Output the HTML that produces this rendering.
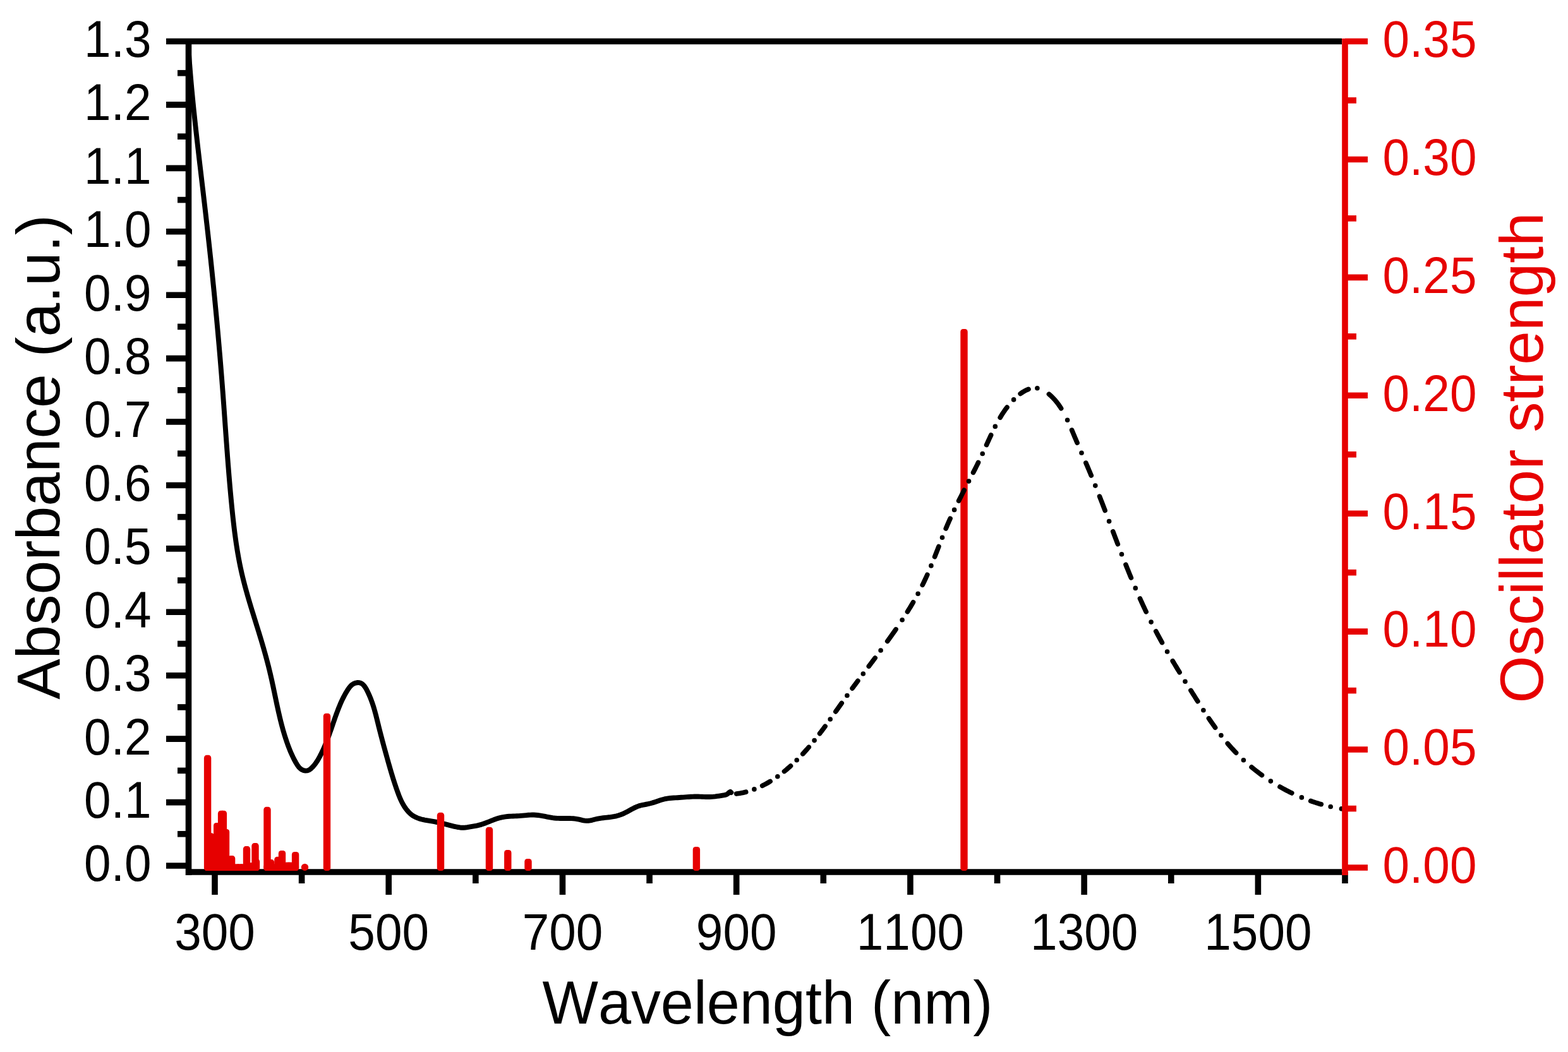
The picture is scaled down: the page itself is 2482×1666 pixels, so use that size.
<!DOCTYPE html>
<html lang="en"><head><meta charset="utf-8"><title>Absorbance and oscillator strength vs wavelength</title>
<style>html,body{margin:0;padding:0;background:#fff}body{width:2482px;height:1666px;overflow:hidden}svg{display:block}text{font-kerning:none;font-variant-ligatures:none}</style>
</head><body>
<svg width="2482" height="1666" viewBox="0 0 2482 1666">
<rect width="2482" height="1666" fill="#fff"/>
<g stroke="#000000" stroke-width="9.6" fill="none" stroke-linecap="butt">
<line x1="263" y1="65.5" x2="2124" y2="65.5"/>
<line x1="298.5" y1="61" x2="298.5" y2="1386"/>
<line x1="294" y1="1381.0" x2="2124" y2="1381.0"/>
<line x1="263" y1="1371.00" x2="298" y2="1371.00"/>
<line x1="281" y1="1320.79" x2="298" y2="1320.79"/>
<line x1="263" y1="1270.58" x2="298" y2="1270.58"/>
<line x1="281" y1="1220.37" x2="298" y2="1220.37"/>
<line x1="263" y1="1170.15" x2="298" y2="1170.15"/>
<line x1="281" y1="1119.94" x2="298" y2="1119.94"/>
<line x1="263" y1="1069.73" x2="298" y2="1069.73"/>
<line x1="281" y1="1019.52" x2="298" y2="1019.52"/>
<line x1="263" y1="969.31" x2="298" y2="969.31"/>
<line x1="281" y1="919.10" x2="298" y2="919.10"/>
<line x1="263" y1="868.88" x2="298" y2="868.88"/>
<line x1="281" y1="818.67" x2="298" y2="818.67"/>
<line x1="263" y1="768.46" x2="298" y2="768.46"/>
<line x1="281" y1="718.25" x2="298" y2="718.25"/>
<line x1="263" y1="668.04" x2="298" y2="668.04"/>
<line x1="281" y1="617.83" x2="298" y2="617.83"/>
<line x1="263" y1="567.62" x2="298" y2="567.62"/>
<line x1="281" y1="517.40" x2="298" y2="517.40"/>
<line x1="263" y1="467.19" x2="298" y2="467.19"/>
<line x1="281" y1="416.98" x2="298" y2="416.98"/>
<line x1="263" y1="366.77" x2="298" y2="366.77"/>
<line x1="281" y1="316.56" x2="298" y2="316.56"/>
<line x1="263" y1="266.35" x2="298" y2="266.35"/>
<line x1="281" y1="216.13" x2="298" y2="216.13"/>
<line x1="263" y1="165.92" x2="298" y2="165.92"/>
<line x1="281" y1="115.71" x2="298" y2="115.71"/>
<line x1="340.00" y1="1381" x2="340.00" y2="1417"/>
<line x1="477.62" y1="1381" x2="477.62" y2="1399"/>
<line x1="615.23" y1="1381" x2="615.23" y2="1417"/>
<line x1="752.85" y1="1381" x2="752.85" y2="1399"/>
<line x1="890.46" y1="1381" x2="890.46" y2="1417"/>
<line x1="1028.08" y1="1381" x2="1028.08" y2="1399"/>
<line x1="1165.69" y1="1381" x2="1165.69" y2="1417"/>
<line x1="1303.31" y1="1381" x2="1303.31" y2="1399"/>
<line x1="1440.92" y1="1381" x2="1440.92" y2="1417"/>
<line x1="1578.54" y1="1381" x2="1578.54" y2="1399"/>
<line x1="1716.15" y1="1381" x2="1716.15" y2="1417"/>
<line x1="1853.77" y1="1381" x2="1853.77" y2="1399"/>
<line x1="1991.38" y1="1381" x2="1991.38" y2="1417"/>
<line x1="2129.00" y1="1381" x2="2129.00" y2="1399"/>
</g>
<path d="M298.60,79.99 L298.80,82.98 L299.01,85.98 L299.22,88.97 L299.43,91.96 L299.65,94.95 L299.88,97.94 L300.10,100.93 L300.34,103.92 L300.57,106.91 L300.81,109.90 L301.05,112.89 L301.30,115.88 L301.55,118.86 L301.80,121.85 L302.06,124.84 L302.32,127.82 L302.58,130.81 L302.85,133.79 L303.12,136.78 L303.39,139.76 L303.67,142.75 L303.95,145.73 L304.23,148.72 L304.52,151.70 L304.80,154.68 L305.09,157.66 L305.39,160.65 L305.68,163.63 L305.98,166.61 L306.28,169.59 L306.59,172.57 L306.89,175.55 L307.20,178.53 L307.51,181.51 L307.83,184.49 L308.14,187.47 L308.46,190.45 L308.78,193.43 L309.10,196.41 L309.42,199.39 L309.75,202.37 L310.07,205.34 L310.40,208.32 L310.73,211.30 L311.06,214.28 L311.40,217.25 L311.73,220.23 L312.07,223.21 L312.40,226.19 L312.74,229.16 L313.08,232.14 L313.42,235.12 L313.77,238.09 L314.11,241.07 L314.45,244.04 L314.80,247.02 L315.14,250.00 L315.49,252.97 L315.84,255.95 L316.19,258.92 L316.54,261.90 L316.89,264.88 L317.24,267.85 L317.59,270.83 L317.94,273.80 L318.29,276.78 L318.64,279.75 L318.99,282.73 L319.34,285.70 L319.69,288.68 L320.05,291.66 L320.40,294.63 L320.75,297.61 L321.10,300.58 L321.45,303.56 L321.80,306.53 L322.15,309.51 L322.50,312.49 L322.85,315.46 L323.20,318.44 L323.55,321.41 L323.89,324.39 L324.24,327.37 L324.59,330.34 L324.93,333.32 L325.28,336.30 L325.62,339.27 L325.96,342.25 L326.30,345.23 L326.64,348.21 L326.98,351.18 L327.32,354.16 L327.66,357.14 L327.99,360.12 L328.33,363.10 L328.66,366.08 L328.99,369.05 L329.32,372.03 L329.65,375.01 L329.98,377.99 L330.31,380.97 L330.64,383.95 L330.96,386.93 L331.29,389.91 L331.61,392.89 L331.93,395.87 L332.25,398.85 L332.57,401.83 L332.89,404.81 L333.21,407.79 L333.53,410.77 L333.84,413.75 L334.15,416.73 L334.47,419.71 L334.78,422.69 L335.09,425.67 L335.40,428.66 L335.71,431.64 L336.02,434.62 L336.32,437.60 L336.63,440.58 L336.93,443.56 L337.23,446.55 L337.53,449.53 L337.83,452.51 L338.13,455.49 L338.43,458.48 L338.72,461.46 L339.02,464.44 L339.31,467.42 L339.61,470.41 L339.90,473.39 L340.19,476.37 L340.48,479.36 L340.76,482.34 L341.05,485.32 L341.34,488.31 L341.62,491.29 L341.90,494.27 L342.18,497.26 L342.46,500.24 L342.74,503.23 L343.02,506.21 L343.30,509.20 L343.57,512.18 L343.85,515.16 L344.12,518.15 L344.39,521.13 L344.66,524.12 L344.93,527.10 L345.19,530.09 L345.46,533.07 L345.73,536.06 L345.99,539.04 L346.25,542.03 L346.51,545.01 L346.77,548.00 L347.03,550.99 L347.29,553.97 L347.54,556.96 L347.79,559.94 L348.05,562.93 L348.30,565.91 L348.55,568.90 L348.80,571.89 L349.04,574.87 L349.29,577.86 L349.54,580.85 L349.78,583.83 L350.02,586.82 L350.26,589.80 L350.50,592.79 L350.74,595.78 L350.97,598.76 L351.21,601.75 L351.44,604.74 L351.67,607.72 L351.91,610.71 L352.13,613.70 L352.36,616.69 L352.59,619.67 L352.81,622.66 L353.04,625.65 L353.26,628.63 L353.48,631.62 L353.70,634.61 L353.92,637.60 L354.14,640.58 L354.36,643.57 L354.57,646.56 L354.79,649.55 L355.01,652.53 L355.22,655.52 L355.43,658.51 L355.65,661.50 L355.86,664.48 L356.08,667.47 L356.29,670.46 L356.50,673.45 L356.72,676.43 L356.93,679.42 L357.15,682.41 L357.36,685.40 L357.58,688.38 L357.79,691.37 L358.01,694.36 L358.23,697.35 L358.44,700.33 L358.66,703.32 L358.88,706.31 L359.10,709.30 L359.32,712.28 L359.55,715.27 L359.77,718.26 L359.99,721.25 L360.22,724.23 L360.45,727.22 L360.68,730.21 L360.91,733.20 L361.14,736.18 L361.38,739.17 L361.62,742.16 L361.86,745.15 L362.10,748.13 L362.34,751.12 L362.59,754.11 L362.84,757.09 L363.09,760.08 L363.34,763.07 L363.60,766.05 L363.85,769.04 L364.12,772.03 L364.38,775.01 L364.65,778.00 L364.92,780.99 L365.19,783.97 L365.47,786.96 L365.75,789.95 L366.03,792.93 L366.32,795.92 L366.61,798.90 L366.90,801.89 L367.20,804.88 L367.50,807.86 L367.81,810.85 L368.12,813.83 L368.43,816.82 L368.75,819.80 L369.08,822.78 L369.41,825.77 L369.75,828.75 L370.10,831.73 L370.45,834.71 L370.81,837.69 L371.18,840.67 L371.56,843.64 L371.94,846.62 L372.34,849.59 L372.75,852.56 L373.16,855.53 L373.59,858.50 L374.03,861.46 L374.48,864.43 L374.94,867.39 L375.41,870.35 L375.90,873.30 L376.39,876.25 L376.90,879.20 L377.43,882.15 L377.97,885.10 L378.52,888.04 L379.09,890.98 L379.68,893.91 L380.28,896.84 L380.89,899.77 L381.52,902.70 L382.17,905.62 L382.84,908.54 L383.52,911.45 L384.22,914.36 L384.94,917.27 L385.67,920.17 L386.41,923.07 L387.16,925.97 L387.93,928.86 L388.71,931.75 L389.51,934.64 L390.31,937.53 L391.12,940.41 L391.95,943.30 L392.78,946.18 L393.62,949.05 L394.47,951.93 L395.32,954.80 L396.19,957.68 L397.05,960.55 L397.93,963.42 L398.80,966.29 L399.69,969.15 L400.57,972.02 L401.46,974.88 L402.35,977.75 L403.24,980.61 L404.13,983.48 L405.02,986.34 L405.91,989.21 L406.80,992.07 L407.69,994.93 L408.58,997.80 L409.46,1000.66 L410.34,1003.52 L411.21,1006.39 L412.08,1009.26 L412.95,1012.12 L413.80,1014.99 L414.66,1017.86 L415.50,1020.73 L416.34,1023.60 L417.17,1026.47 L417.99,1029.35 L418.81,1032.23 L419.61,1035.11 L420.41,1037.99 L421.20,1040.87 L421.98,1043.76 L422.75,1046.65 L423.51,1049.54 L424.26,1052.43 L425.00,1055.33 L425.72,1058.23 L426.44,1061.14 L427.14,1064.05 L427.84,1066.96 L428.52,1069.88 L429.18,1072.80 L429.84,1075.72 L430.49,1078.65 L431.13,1081.58 L431.76,1084.52 L432.39,1087.45 L433.01,1090.39 L433.63,1093.32 L434.24,1096.26 L434.85,1099.20 L435.47,1102.14 L436.08,1105.08 L436.69,1108.02 L437.31,1110.96 L437.93,1113.90 L438.56,1116.83 L439.19,1119.77 L439.83,1122.70 L440.48,1125.63 L441.14,1128.55 L441.81,1131.48 L442.49,1134.39 L443.18,1137.31 L443.89,1140.22 L444.61,1143.13 L445.35,1146.03 L446.11,1148.92 L446.88,1151.81 L447.67,1154.70 L448.49,1157.57 L449.33,1160.44 L450.19,1163.31 L451.07,1166.16 L451.98,1169.01 L452.92,1171.85 L453.88,1174.68 L454.87,1177.50 L455.89,1180.31 L456.94,1183.11 L458.03,1185.91 L459.15,1188.69 L460.31,1191.45 L461.51,1194.21 L462.77,1196.94 L464.07,1199.66 L465.43,1202.36 L466.85,1205.04 L468.34,1207.70 L469.89,1210.32 L471.56,1212.86 L473.40,1215.20 L475.49,1217.25 L477.88,1218.90 L480.63,1220.05 L483.62,1220.59 L486.62,1220.39 L489.38,1219.34 L491.83,1217.57 L494.06,1215.48 L496.12,1213.27 L498.05,1210.96 L499.84,1208.56 L501.52,1206.08 L503.10,1203.54 L504.60,1200.94 L506.04,1198.31 L507.42,1195.66 L508.76,1192.99 L510.07,1190.29 L511.33,1187.59 L512.56,1184.86 L513.75,1182.12 L514.92,1179.37 L516.05,1176.60 L517.16,1173.82 L518.24,1171.03 L519.30,1168.23 L520.34,1165.42 L521.37,1162.60 L522.38,1159.78 L523.37,1156.94 L524.36,1154.11 L525.34,1151.27 L526.32,1148.42 L527.29,1145.58 L528.26,1142.73 L529.24,1139.89 L530.23,1137.05 L531.22,1134.22 L532.24,1131.39 L533.27,1128.57 L534.32,1125.77 L535.40,1122.97 L536.50,1120.19 L537.64,1117.42 L538.81,1114.66 L540.01,1111.93 L541.26,1109.22 L542.56,1106.53 L543.90,1103.86 L545.29,1101.21 L546.74,1098.59 L548.25,1096.01 L549.81,1093.45 L551.45,1090.92 L553.19,1088.48 L555.14,1086.22 L557.36,1084.25 L559.95,1082.65 L562.94,1081.53 L566.08,1081.00 L569.03,1081.18 L571.63,1082.06 L573.92,1083.55 L575.93,1085.53 L577.73,1087.87 L579.35,1090.48 L580.83,1093.22 L582.23,1096.01 L583.55,1098.81 L584.79,1101.61 L585.98,1104.42 L587.09,1107.24 L588.15,1110.06 L589.16,1112.89 L590.12,1115.73 L591.03,1118.57 L591.91,1121.42 L592.74,1124.27 L593.55,1127.13 L594.33,1130.00 L595.08,1132.87 L595.82,1135.75 L596.55,1138.63 L597.26,1141.51 L597.97,1144.40 L598.68,1147.29 L599.39,1150.19 L600.12,1153.09 L600.85,1155.99 L601.59,1158.90 L602.33,1161.80 L603.09,1164.71 L603.85,1167.62 L604.62,1170.53 L605.39,1173.45 L606.17,1176.36 L606.95,1179.27 L607.74,1182.18 L608.53,1185.08 L609.33,1187.99 L610.13,1190.89 L610.93,1193.79 L611.74,1196.68 L612.54,1199.57 L613.35,1202.46 L614.16,1205.34 L614.97,1208.22 L615.79,1211.09 L616.61,1213.96 L617.43,1216.83 L618.27,1219.69 L619.11,1222.55 L619.96,1225.40 L620.82,1228.26 L621.70,1231.11 L622.59,1233.96 L623.49,1236.80 L624.41,1239.65 L625.34,1242.50 L626.30,1245.34 L627.27,1248.19 L628.26,1251.03 L629.28,1253.88 L630.32,1256.72 L631.40,1259.55 L632.53,1262.36 L633.71,1265.14 L634.96,1267.89 L636.28,1270.59 L637.69,1273.25 L639.19,1275.84 L640.79,1278.37 L642.51,1280.82 L644.34,1283.18 L646.31,1285.45 L648.40,1287.59 L650.63,1289.56 L652.98,1291.31 L655.46,1292.85 L658.05,1294.19 L660.74,1295.35 L663.51,1296.35 L666.36,1297.21 L669.27,1297.96 L672.23,1298.61 L675.22,1299.19 L678.24,1299.72 L681.28,1300.22 L684.31,1300.71 L687.33,1301.22 L690.32,1301.75 L693.28,1302.34 L696.20,1302.99 L699.09,1303.68 L701.96,1304.41 L704.81,1305.16 L707.66,1305.92 L710.50,1306.67 L713.36,1307.41 L716.23,1308.13 L719.13,1308.81 L722.06,1309.44 L725.04,1310.00 L728.04,1310.46 L731.03,1310.74 L733.99,1310.76 L736.90,1310.53 L739.79,1310.14 L742.70,1309.66 L745.63,1309.18 L748.59,1308.68 L751.56,1308.15 L754.52,1307.57 L757.47,1306.91 L760.38,1306.14 L763.26,1305.27 L766.10,1304.30 L768.92,1303.26 L771.71,1302.17 L774.50,1301.05 L777.28,1299.93 L780.06,1298.83 L782.86,1297.77 L785.68,1296.78 L788.52,1295.86 L791.41,1295.06 L794.32,1294.38 L797.27,1293.82 L800.24,1293.36 L803.23,1293.02 L806.21,1292.77 L809.20,1292.60 L812.19,1292.48 L815.18,1292.38 L818.17,1292.27 L821.16,1292.12 L824.17,1291.90 L827.17,1291.63 L830.18,1291.34 L833.19,1291.06 L836.19,1290.81 L839.19,1290.62 L842.19,1290.52 L845.17,1290.54 L848.15,1290.70 L851.12,1290.99 L854.08,1291.38 L857.04,1291.85 L859.99,1292.38 L862.95,1292.94 L865.90,1293.52 L868.85,1294.08 L871.80,1294.60 L874.76,1295.07 L877.73,1295.46 L880.70,1295.73 L883.68,1295.90 L886.67,1295.98 L889.66,1296.00 L892.65,1295.99 L895.65,1295.96 L898.65,1295.95 L901.64,1295.98 L904.64,1296.08 L907.62,1296.28 L910.61,1296.59 L913.58,1297.05 L916.55,1297.67 L919.51,1298.37 L922.46,1299.03 L925.41,1299.57 L928.35,1299.85 L931.28,1299.78 L934.22,1299.39 L937.16,1298.77 L940.09,1298.02 L943.03,1297.26 L945.98,1296.58 L948.94,1296.04 L951.90,1295.59 L954.86,1295.22 L957.83,1294.90 L960.81,1294.59 L963.79,1294.26 L966.77,1293.89 L969.74,1293.44 L972.71,1292.91 L975.65,1292.27 L978.55,1291.51 L981.42,1290.60 L984.22,1289.55 L986.98,1288.34 L989.69,1287.03 L992.37,1285.63 L995.04,1284.19 L997.69,1282.74 L1000.35,1281.30 L1003.02,1279.91 L1005.71,1278.60 L1008.44,1277.41 L1011.21,1276.37 L1014.04,1275.51 L1016.93,1274.83 L1019.86,1274.27 L1022.80,1273.74 L1025.75,1273.19 L1028.67,1272.52 L1031.57,1271.74 L1034.45,1270.86 L1037.32,1269.92 L1040.18,1268.96 L1043.03,1268.00 L1045.89,1267.07 L1048.76,1266.22 L1051.65,1265.46 L1054.56,1264.82 L1057.49,1264.34 L1060.45,1263.99 L1063.42,1263.73 L1066.41,1263.53 L1069.40,1263.36 L1072.40,1263.19 L1075.39,1263.00 L1078.38,1262.79 L1081.37,1262.58 L1084.36,1262.36 L1087.35,1262.15 L1090.34,1261.95 L1093.33,1261.78 L1096.32,1261.65 L1099.32,1261.55 L1102.31,1261.50 L1105.32,1261.51 L1108.32,1261.58 L1111.33,1261.70 L1114.33,1261.83 L1117.33,1261.94 L1120.33,1262.00 L1123.31,1261.98 L1126.27,1261.85 L1129.23,1261.62 L1132.17,1261.32 L1135.10,1260.95 L1138.03,1260.54 L1140.95,1260.10 L1143.87,1259.65 L1146.79,1259.20 L1149.62,1258.49 L1152.13,1256.90 L1154.26,1254.89 L1156.02,1253.82 L1157.45,1255.15" stroke="#000000" stroke-width="7.9" fill="none" stroke-linejoin="round" stroke-linecap="round"/>
<g fill="#E60000">
<rect x="323.30" y="1368.2" width="87.60" height="10.8" rx="4.2" ry="4.6"/>
<rect x="417.30" y="1368.2" width="55.80" height="10.8" rx="4.2" ry="4.6"/>
<rect x="322.90" y="1195.8" width="11.4" height="183.2" rx="4.2" ry="4.6"/>
<rect x="327.80" y="1319.3" width="11.4" height="59.7" rx="4.2" ry="4.6"/>
<rect x="338.00" y="1303.0" width="11.4" height="76.0" rx="4.2" ry="4.6"/>
<rect x="344.90" y="1283.8" width="11.4" height="95.2" rx="4.2" ry="4.6"/>
<rect x="347.70" y="1283.8" width="11.4" height="95.2" rx="4.2" ry="4.6"/>
<rect x="351.80" y="1313.0" width="11.4" height="66.0" rx="4.2" ry="4.6"/>
<rect x="360.90" y="1355.1" width="11.4" height="23.9" rx="4.2" ry="4.6"/>
<rect x="371.30" y="1368.2" width="11.4" height="10.8" rx="5.7" ry="5.4"/>
<rect x="376.30" y="1368.2" width="11.4" height="10.8" rx="5.7" ry="5.4"/>
<rect x="384.80" y="1340.1" width="11.4" height="38.9" rx="4.2" ry="4.6"/>
<rect x="391.80" y="1366.0" width="11.4" height="13.0" rx="5.7" ry="6.5"/>
<rect x="398.30" y="1335.1" width="11.4" height="43.9" rx="4.2" ry="4.6"/>
<rect x="399.80" y="1360.2" width="11.4" height="18.8" rx="4.2" ry="4.6"/>
<rect x="417.30" y="1277.8" width="11.4" height="101.2" rx="4.2" ry="4.6"/>
<rect x="422.80" y="1361.1" width="11.4" height="17.9" rx="4.2" ry="4.6"/>
<rect x="434.20" y="1356.8" width="11.4" height="22.2" rx="4.2" ry="4.6"/>
<rect x="440.80" y="1347.0" width="11.4" height="32.0" rx="4.2" ry="4.6"/>
<rect x="449.30" y="1365.5" width="11.4" height="13.5" rx="4.2" ry="4.6"/>
<rect x="453.80" y="1365.5" width="11.4" height="13.5" rx="4.2" ry="4.6"/>
<rect x="461.90" y="1349.0" width="11.4" height="30.0" rx="4.2" ry="4.6"/>
<rect x="476.80" y="1367.8" width="11.4" height="11.2" rx="5.7" ry="5.6"/>
<rect x="511.80" y="1129.7" width="11.4" height="249.3" rx="4.2" ry="4.6"/>
<rect x="691.80" y="1286.8" width="11.4" height="92.2" rx="4.2" ry="4.6"/>
<rect x="768.80" y="1309.8" width="11.4" height="69.2" rx="4.2" ry="4.6"/>
<rect x="798.10" y="1346.0" width="11.4" height="33.0" rx="4.2" ry="4.6"/>
<rect x="830.30" y="1360.0" width="11.4" height="19.0" rx="4.2" ry="4.6"/>
<rect x="1096.70" y="1341.0" width="11.4" height="38.0" rx="4.2" ry="4.6"/>
<rect x="1520.30" y="521.0" width="11.4" height="858.0" rx="4.2" ry="4.6"/>
</g>
<path d="M1165.77,1257.10 L1167.75,1256.83 L1169.73,1256.53 L1171.70,1256.19 L1173.67,1255.82 L1175.63,1255.41 L1177.58,1254.97 L1179.52,1254.50 L1180.69,1254.20 M1193.9,1249.9 l0.01,0 M1206.67,1244.32 L1208.46,1243.42 L1210.23,1242.49 L1211.99,1241.55 L1213.74,1240.58 L1215.48,1239.59 L1217.21,1238.59 L1218.92,1237.56 L1219.21,1237.38 M1230.8,1229.7 l0.01,0 M1241.49,1221.59 L1243.03,1220.33 L1244.57,1219.05 L1246.10,1217.76 L1247.62,1216.45 L1249.12,1215.14 L1250.62,1213.81 L1251.51,1213.01 M1261.2,1203.8 l0.01,0 M1270.84,1193.83 L1272.19,1192.36 L1273.53,1190.88 L1274.87,1189.39 L1276.20,1187.89 L1277.52,1186.39 L1278.83,1184.88 L1280.14,1183.37 L1280.24,1183.25 M1289.1,1172.6 l0.01,0 M1297.60,1161.66 L1298.81,1160.07 L1300.02,1158.47 L1301.22,1156.87 L1302.41,1155.27 L1303.61,1153.67 L1304.80,1152.06 L1305.98,1150.45 L1306.11,1150.27 M1314.2,1139.0 l0.01,0 M1322.83,1126.92 L1323.98,1125.28 L1325.13,1123.65 L1326.28,1122.02 L1327.44,1120.38 L1328.59,1118.75 L1329.74,1117.11 L1330.90,1115.48 L1332.05,1113.84 L1332.25,1113.56 M1340.9,1101.5 l0.01,0 M1349.15,1090.08 L1350.34,1088.47 L1351.53,1086.86 L1352.71,1085.25 L1353.90,1083.64 L1355.10,1082.03 L1356.29,1080.43 L1357.48,1078.83 L1357.89,1078.27 M1366.3,1067.0 l0.01,0 M1375.30,1055.10 L1376.50,1053.51 L1377.70,1051.91 L1378.91,1050.31 L1380.11,1048.71 L1381.31,1047.11 L1382.51,1045.51 L1383.71,1043.92 L1384.91,1042.32 L1385.17,1041.97 M1394.1,1030.0 l0.01,0 M1404.70,1015.52 L1405.87,1013.90 L1407.04,1012.27 L1408.20,1010.65 L1409.36,1009.02 L1410.52,1007.39 L1411.68,1005.76 L1412.83,1004.13 L1413.98,1002.49 L1415.13,1000.85 L1416.28,999.21 L1417.42,997.57 L1418.06,996.64 M1428.1,981.7 l0.01,0 M1436.44,968.74 L1437.50,967.04 L1438.55,965.34 L1439.59,963.63 L1440.63,961.93 L1441.66,960.21 L1442.69,958.50 L1443.71,956.78 L1444.72,955.05 L1445.52,953.68 M1453.1,940.2 l0.01,0 M1460.22,926.41 L1461.11,924.62 L1461.98,922.82 L1462.85,921.02 L1463.71,919.21 L1464.55,917.40 L1465.39,915.58 L1466.22,913.76 L1467.04,911.94 L1467.81,910.22 M1473.9,895.9 l0.01,0 M1479.62,881.70 L1480.35,879.84 L1481.08,877.97 L1481.80,876.11 L1482.53,874.25 L1483.25,872.38 L1483.98,870.52 L1484.70,868.65 L1485.42,866.79 L1485.90,865.55 M1491.5,851.3 l0.01,0 M1497.21,837.11 L1497.98,835.26 L1498.76,833.42 L1499.54,831.58 L1500.33,829.74 L1501.13,827.91 L1501.93,826.08 L1502.74,824.25 L1503.56,822.42 L1504.10,821.23 M1510.6,807.4 l0.01,0 M1517.64,793.04 L1518.54,791.25 L1519.44,789.47 L1520.34,787.68 L1521.25,785.90 L1522.16,784.12 L1523.07,782.34 L1523.98,780.56 L1524.90,778.78 L1525.81,777.00 L1526.17,776.31 M1533.5,762.1 l0.01,0 M1540.59,748.33 L1541.50,746.55 L1542.40,744.77 L1543.30,742.98 L1544.20,741.19 L1545.10,739.41 L1545.99,737.62 L1546.88,735.82 L1547.76,734.03 L1548.54,732.45 M1555.2,718.5 l0.01,0 M1561.54,704.63 L1562.36,702.81 L1563.18,700.99 L1564.01,699.17 L1564.84,697.35 L1565.67,695.53 L1566.50,693.71 L1567.34,691.89 L1568.18,690.08 L1568.65,689.07 M1575.3,675.4 l0.01,0 M1583.18,661.19 L1584.21,659.47 L1585.26,657.77 L1586.33,656.08 L1587.42,654.41 L1588.53,652.74 L1589.66,651.09 L1590.80,649.45 L1591.97,647.83 L1593.16,646.22 L1593.99,645.12 M1604.6,632.9 l0.01,0 M1615.20,623.53 L1616.83,622.36 L1618.48,621.24 L1620.18,620.17 L1621.91,619.17 L1623.68,618.24 L1625.48,617.39 L1627.33,616.62 L1628.03,616.36 M1641.9,614.8 l0.01,0 M1660.44,624.22 L1661.96,625.51 L1663.45,626.84 L1664.90,628.22 L1666.32,629.63 L1667.71,631.07 L1669.06,632.55 L1670.38,634.05 L1671.67,635.58 L1672.92,637.14 L1674.15,638.72 L1675.34,640.32 L1676.50,641.95 L1677.64,643.60 L1678.74,645.26 L1679.66,646.69 M1689.6,665.2 l0.01,0 M1696.64,681.09 L1697.41,682.93 L1698.18,684.78 L1698.95,686.63 L1699.72,688.47 L1700.49,690.32 L1701.26,692.16 L1702.04,694.01 L1702.82,695.85 L1703.60,697.69 L1704.38,699.53 L1705.11,701.23 M1712.0,717.2 l0.01,0 M1718.88,733.08 L1719.67,734.92 L1720.46,736.75 L1721.24,738.59 L1722.02,740.43 L1722.80,742.28 L1723.58,744.12 L1724.35,745.96 L1725.12,747.81 L1725.89,749.66 L1726.66,751.50 L1727.30,753.05 M1733.8,769.1 l0.01,0 M1740.54,786.16 L1741.27,788.02 L1741.99,789.89 L1742.71,791.75 L1743.43,793.62 L1744.15,795.48 L1744.87,797.35 L1745.59,799.22 L1746.31,801.08 L1747.02,802.95 L1747.74,804.82 L1748.45,806.69 L1749.13,808.47 M1755.6,825.6 l0.01,0 M1761.74,841.71 L1762.45,843.58 L1763.16,845.45 L1763.86,847.32 L1764.57,849.19 L1765.28,851.06 L1765.99,852.93 L1766.71,854.80 L1767.42,856.67 L1768.13,858.53 L1768.84,860.40 L1769.36,861.75 M1775.5,877.8 l0.01,0 M1782.01,894.26 L1782.74,896.12 L1783.49,897.98 L1784.23,899.83 L1784.97,901.69 L1785.72,903.54 L1786.47,905.40 L1787.22,907.25 L1787.98,909.10 L1788.73,910.96 L1789.49,912.81 L1790.25,914.66 L1790.44,915.11 M1797.3,931.4 l0.01,0 M1804.50,947.89 L1805.32,949.72 L1806.14,951.54 L1806.97,953.36 L1807.80,955.18 L1808.63,957.00 L1809.47,958.82 L1810.31,960.63 L1811.15,962.44 L1812.00,964.25 L1812.85,966.06 L1813.71,967.87 L1814.20,968.90 M1822.1,985.1 l0.01,0 M1829.76,999.83 L1830.69,1001.60 L1831.64,1003.36 L1832.58,1005.12 L1833.53,1006.88 L1834.49,1008.64 L1835.44,1010.40 L1836.41,1012.15 L1837.37,1013.90 L1838.34,1015.65 L1839.31,1017.40 L1839.41,1017.58 M1847.6,1032.0 l0.01,0 M1856.24,1046.72 L1857.26,1048.44 L1858.29,1050.16 L1859.32,1051.87 L1860.35,1053.59 L1861.38,1055.30 L1862.41,1057.01 L1863.45,1058.72 L1864.49,1060.43 L1865.53,1062.14 L1866.57,1063.84 L1867.11,1064.72 M1876.0,1079.2 l0.01,0 M1884.94,1093.39 L1886.00,1095.08 L1887.07,1096.77 L1888.13,1098.46 L1889.20,1100.15 L1890.27,1101.85 L1891.34,1103.54 L1892.41,1105.23 L1893.48,1106.92 L1894.55,1108.61 L1895.62,1110.30 L1895.86,1110.67 M1904.9,1124.8 l0.01,0 M1913.46,1137.68 L1914.58,1139.33 L1915.71,1140.99 L1916.84,1142.63 L1917.98,1144.28 L1919.13,1145.92 L1920.28,1147.55 L1921.43,1149.19 L1922.59,1150.82 L1923.60,1152.22 M1932.9,1164.6 l0.01,0 M1943.26,1177.43 L1944.56,1178.95 L1945.87,1180.46 L1947.19,1181.97 L1948.52,1183.46 L1949.86,1184.95 L1951.21,1186.42 L1952.57,1187.89 L1953.93,1189.35 L1955.31,1190.80 L1956.62,1192.16 M1968.4,1203.7 l0.01,0 M1981.09,1214.85 L1982.63,1216.12 L1984.18,1217.39 L1985.73,1218.64 L1987.30,1219.89 L1988.87,1221.12 L1990.45,1222.35 L1992.04,1223.56 L1993.64,1224.77 L1995.24,1225.96 L1996.85,1227.15 L1997.47,1227.59 M2011.4,1237.1 l0.01,0 M2026.00,1246.05 L2027.74,1247.03 L2029.49,1248.01 L2031.24,1248.97 L2033.00,1249.93 L2034.76,1250.87 L2036.53,1251.80 L2038.31,1252.72 L2040.09,1253.62 L2041.88,1254.52 L2043.68,1255.40 L2044.79,1255.94 M2060.4,1262.9 l0.01,0 M2074.72,1268.44 L2076.61,1269.10 L2078.50,1269.74 L2080.40,1270.37 L2082.30,1270.99 L2084.21,1271.60 L2086.12,1272.19 L2088.03,1272.77 L2089.95,1273.34 L2091.31,1273.73 M2106.2,1277.5 l0.01,0 M2123.47,1280.81 L2125.45,1281.11 L2127.43,1281.40 L2128.72,1281.57" stroke="#000000" stroke-width="7.6" fill="none" stroke-linejoin="round" stroke-linecap="round"/>
<g stroke="#E60000" stroke-width="9.6" fill="none">
<line x1="2129.0" y1="61" x2="2129.0" y2="1386"/>
<line x1="2129" y1="1374.00" x2="2165" y2="1374.00"/>
<line x1="2129" y1="1280.54" x2="2147" y2="1280.54"/>
<line x1="2129" y1="1187.07" x2="2165" y2="1187.07"/>
<line x1="2129" y1="1093.61" x2="2147" y2="1093.61"/>
<line x1="2129" y1="1000.14" x2="2165" y2="1000.14"/>
<line x1="2129" y1="906.68" x2="2147" y2="906.68"/>
<line x1="2129" y1="813.21" x2="2165" y2="813.21"/>
<line x1="2129" y1="719.75" x2="2147" y2="719.75"/>
<line x1="2129" y1="626.29" x2="2165" y2="626.29"/>
<line x1="2129" y1="532.82" x2="2147" y2="532.82"/>
<line x1="2129" y1="439.36" x2="2165" y2="439.36"/>
<line x1="2129" y1="345.89" x2="2147" y2="345.89"/>
<line x1="2129" y1="252.43" x2="2165" y2="252.43"/>
<line x1="2129" y1="158.96" x2="2147" y2="158.96"/>
<line x1="2129" y1="65.50" x2="2165" y2="65.50"/>
</g>
<text transform="translate(239.5,1395.3) scale(0.9336,1)" font-family="'Liberation Sans', Arial, sans-serif" font-size="82.0" text-anchor="end" fill="#000000">0.0</text>
<text transform="translate(239.5,1294.9) scale(0.9336,1)" font-family="'Liberation Sans', Arial, sans-serif" font-size="82.0" text-anchor="end" fill="#000000">0.1</text>
<text transform="translate(239.5,1194.5) scale(0.9336,1)" font-family="'Liberation Sans', Arial, sans-serif" font-size="82.0" text-anchor="end" fill="#000000">0.2</text>
<text transform="translate(239.5,1094.0) scale(0.9336,1)" font-family="'Liberation Sans', Arial, sans-serif" font-size="82.0" text-anchor="end" fill="#000000">0.3</text>
<text transform="translate(239.5,993.6) scale(0.9336,1)" font-family="'Liberation Sans', Arial, sans-serif" font-size="82.0" text-anchor="end" fill="#000000">0.4</text>
<text transform="translate(239.5,893.2) scale(0.9336,1)" font-family="'Liberation Sans', Arial, sans-serif" font-size="82.0" text-anchor="end" fill="#000000">0.5</text>
<text transform="translate(239.5,792.8) scale(0.9336,1)" font-family="'Liberation Sans', Arial, sans-serif" font-size="82.0" text-anchor="end" fill="#000000">0.6</text>
<text transform="translate(239.5,692.3) scale(0.9336,1)" font-family="'Liberation Sans', Arial, sans-serif" font-size="82.0" text-anchor="end" fill="#000000">0.7</text>
<text transform="translate(239.5,591.9) scale(0.9336,1)" font-family="'Liberation Sans', Arial, sans-serif" font-size="82.0" text-anchor="end" fill="#000000">0.8</text>
<text transform="translate(239.5,491.5) scale(0.9336,1)" font-family="'Liberation Sans', Arial, sans-serif" font-size="82.0" text-anchor="end" fill="#000000">0.9</text>
<text transform="translate(239.5,391.1) scale(0.9336,1)" font-family="'Liberation Sans', Arial, sans-serif" font-size="82.0" text-anchor="end" fill="#000000">1.0</text>
<text transform="translate(239.5,290.6) scale(0.9336,1)" font-family="'Liberation Sans', Arial, sans-serif" font-size="82.0" text-anchor="end" fill="#000000">1.1</text>
<text transform="translate(239.5,190.2) scale(0.9336,1)" font-family="'Liberation Sans', Arial, sans-serif" font-size="82.0" text-anchor="end" fill="#000000">1.2</text>
<text transform="translate(239.5,89.8) scale(0.9336,1)" font-family="'Liberation Sans', Arial, sans-serif" font-size="82.0" text-anchor="end" fill="#000000">1.3</text>
<text transform="translate(2188.5,1398.3) scale(0.9336,1)" font-family="'Liberation Sans', Arial, sans-serif" font-size="82.0" text-anchor="start" fill="#E60000">0.00</text>
<text transform="translate(2188.5,1211.4) scale(0.9336,1)" font-family="'Liberation Sans', Arial, sans-serif" font-size="82.0" text-anchor="start" fill="#E60000">0.05</text>
<text transform="translate(2188.5,1024.4) scale(0.9336,1)" font-family="'Liberation Sans', Arial, sans-serif" font-size="82.0" text-anchor="start" fill="#E60000">0.10</text>
<text transform="translate(2188.5,837.5) scale(0.9336,1)" font-family="'Liberation Sans', Arial, sans-serif" font-size="82.0" text-anchor="start" fill="#E60000">0.15</text>
<text transform="translate(2188.5,650.6) scale(0.9336,1)" font-family="'Liberation Sans', Arial, sans-serif" font-size="82.0" text-anchor="start" fill="#E60000">0.20</text>
<text transform="translate(2188.5,463.7) scale(0.9336,1)" font-family="'Liberation Sans', Arial, sans-serif" font-size="82.0" text-anchor="start" fill="#E60000">0.25</text>
<text transform="translate(2188.5,276.7) scale(0.9336,1)" font-family="'Liberation Sans', Arial, sans-serif" font-size="82.0" text-anchor="start" fill="#E60000">0.30</text>
<text transform="translate(2188.5,89.8) scale(0.9336,1)" font-family="'Liberation Sans', Arial, sans-serif" font-size="82.0" text-anchor="start" fill="#E60000">0.35</text>
<text transform="translate(340.0,1504) scale(0.9336,1)" font-family="'Liberation Sans', Arial, sans-serif" font-size="82.0" text-anchor="middle" fill="#000000">300</text>
<text transform="translate(615.2,1504) scale(0.9336,1)" font-family="'Liberation Sans', Arial, sans-serif" font-size="82.0" text-anchor="middle" fill="#000000">500</text>
<text transform="translate(890.5,1504) scale(0.9336,1)" font-family="'Liberation Sans', Arial, sans-serif" font-size="82.0" text-anchor="middle" fill="#000000">700</text>
<text transform="translate(1165.7,1504) scale(0.9336,1)" font-family="'Liberation Sans', Arial, sans-serif" font-size="82.0" text-anchor="middle" fill="#000000">900</text>
<text transform="translate(1440.9,1504) scale(0.9336,1)" font-family="'Liberation Sans', Arial, sans-serif" font-size="82.0" text-anchor="middle" fill="#000000">1100</text>
<text transform="translate(1716.2,1504) scale(0.9336,1)" font-family="'Liberation Sans', Arial, sans-serif" font-size="82.0" text-anchor="middle" fill="#000000">1300</text>
<text transform="translate(1991.4,1504) scale(0.9336,1)" font-family="'Liberation Sans', Arial, sans-serif" font-size="82.0" text-anchor="middle" fill="#000000">1500</text>
<text transform="translate(1215,1621) scale(0.9653,1)" font-family="'Liberation Sans', Arial, sans-serif" font-size="97" text-anchor="middle" fill="#000000">Wavelength (nm)</text>
<text transform="translate(94,724) rotate(-90) scale(0.9957,1)" font-family="'Liberation Sans', Arial, sans-serif" font-size="97" text-anchor="middle" fill="#000000">Absorbance (a.u.)</text>
<text transform="translate(2442,725) rotate(-90) scale(0.9944,1)" font-family="'Liberation Sans', Arial, sans-serif" font-size="97" text-anchor="middle" fill="#E60000">Oscillator strength</text>
</svg>
</body></html>
